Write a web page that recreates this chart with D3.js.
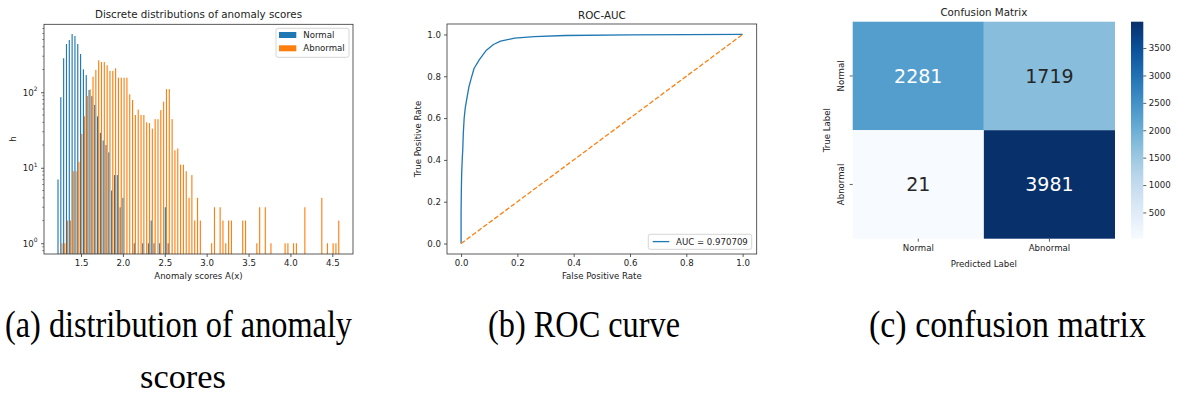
<!DOCTYPE html>
<html>
<head>
<meta charset="utf-8">
<script src="https://cdn.jsdelivr.net/npm/d3@7"></script>
<style>
  html, body { margin: 0; padding: 0; background: #fff; }
  svg { display: block; }
  text { font-family: "DejaVu Sans", sans-serif; fill: #222; }
</style>
</head>
<body>
<script>
// ---------------- DATA ----------------
// (a) histogram: 100 bins from binMin to binMax, two series side by side
const histBinMin = 1.215;
const histBinMax = 4.587;
const normalCounts = [
  7, 86, 282, 436, 492, 590, 556, 436, 321, 201,
  169, 107, 89, 68, 48, 29, 23, 20, 16, 5,
  8, 8, 3, 4, 0, 0, 0, 1, 0, 0,
  1, 0, 1, 2, 1, 0, 1, 0, 3, 1,
  0, 0, 0, 0, 0, 0, 0, 0, 0, 0,
  0, 0, 0, 0, 0, 0, 0, 0, 0, 0,
  0, 0, 0, 0, 0, 0, 0, 0, 0, 0,
  0, 0, 0, 0, 0, 0, 0, 0, 0, 0,
  0, 0, 0, 0, 0, 0, 0, 0, 0, 0,
  0, 0, 0, 0, 0, 0, 0, 0, 0, 0
];
const abnormalCounts = [
  0, 1, 1, 2, 2, 9, 9, 12, 28, 48,
  89, 109, 161, 198, 265, 251, 251, 228, 192, 192,
  208, 156, 156, 156, 156, 94, 79, 50, 59, 50,
  50, 40, 39, 33, 44, 44, 58, 75, 110, 110,
  44, 17, 18, 11, 11, 9, 4, 8, 2, 4,
  2, 0, 0, 0, 1, 3, 0, 3, 2, 1,
  2, 2, 0, 0, 0, 2, 2, 0, 0, 0,
  1, 3, 0, 3, 0, 1, 0, 0, 0, 0,
  1, 1, 0, 1, 1, 0, 0, 3, 0, 0,
  0, 0, 0, 4, 0, 1, 0, 1, 1, 2
];
const histSeries = ["Normal", "Abnormal"];
const histXTicks = [1.5, 2.0, 2.5, 3.0, 3.5, 4.0, 4.5];
const histYExponents = [0, 1, 2];
const histYMinor = [0.8, 0.9, 2, 3, 4, 5, 6, 7, 8, 9, 20, 30, 40, 50, 60, 70, 80, 90, 200, 300, 400, 500, 600, 700];

// (b) ROC curve
const rocFpr = [0, 0, 0.001, 0.002, 0.004, 0.006, 0.008, 0.011, 0.015, 0.02, 0.028, 0.036, 0.046, 0.065, 0.09, 0.115, 0.14, 0.19, 0.26, 0.37, 0.6, 0.8, 1];
const rocTpr = [0, 0.15, 0.26, 0.33, 0.40, 0.45, 0.53, 0.60, 0.65, 0.69, 0.75, 0.79, 0.837, 0.88, 0.925, 0.952, 0.968, 0.982, 0.99, 0.995, 0.998, 0.999, 1];
const chanceLine = [0, 1];
const rocTicks = [0, 0.2, 0.4, 0.6, 0.8, 1.0];
const aucLabel = "AUC = 0.970709";

// (c) confusion matrix
const cmLabels = ["Normal", "Abnormal"];
const cmValues = [[2281, 1719], [21, 3981]];
const cbTicks = [500, 1000, 1500, 2000, 2500, 3000, 3500];

// captions
const captions = [
  { text: "(a) distribution of anomaly", x0: 5, x1: 352, line: 1 },
  { text: "scores", x0: 140, x1: 226, line: 2 },
  { text: "(b) ROC curve", x0: 488, x1: 680, line: 1 },
  { text: "(c) confusion matrix", x0: 869, x1: 1146, line: 1 }
];

// ---------------- SETUP ----------------
const W = 1178, H = 398;
const svg = d3.select("body").append("svg").attr("width", W).attr("height", H);
svg.append("rect").attr("width", W).attr("height", H).attr("fill", "#fff");

const TICK_FS = 8.6, TITLE_FS = 10.3;
const BLUE = "#1f77b4", ORANGE = "#ff7f0e";
const SPINE = "#333";

function styleAxis(g) {
  g.select(".domain").remove();
  g.selectAll(".tick line").attr("stroke", SPINE).attr("stroke-width", 0.8);
  g.selectAll(".tick text").attr("font-size", TICK_FS).attr("fill", "#222").attr("font-family", "DejaVu Sans");
}
function frame(x0, y0, x1, y1) {
  svg.append("rect").attr("x", x0).attr("y", y0).attr("width", x1 - x0).attr("height", y1 - y0)
    .attr("fill", "none").attr("stroke", SPINE).attr("stroke-width", 0.8);
}

// ---------------- (a) HISTOGRAM ----------------
(function () {
  const L = 44, R = 353, T = 24.3, B = 254;
  const x = d3.scaleLinear().domain([1.058, 4.747]).range([L, R]);
  const y = d3.scaleLog().domain([Math.pow(10, -0.142), Math.pow(10, 2.9)]).range([B, T]);
  const n = normalCounts.length;
  const bw = (histBinMax - histBinMin) / n;
  const bins = d3.range(n).map(i => ({ i, left: histBinMin + i * bw, normal: normalCounts[i], abnormal: abnormalCounts[i] }));

  const g = svg.append("g");
  const series = [
    { key: "normal", color: BLUE, off0: 0.1, off1: 0.5 },
    { key: "abnormal", color: ORANGE, off0: 0.5, off1: 0.9 }
  ];
  series.forEach(s => {
    g.selectAll(null).data(bins.filter(d => d[s.key] > 0)).join("rect")
      .attr("x", d => x(d.left + s.off0 * bw))
      .attr("width", d => x(d.left + s.off1 * bw) - x(d.left + s.off0 * bw))
      .attr("y", d => y(d[s.key]))
      .attr("height", d => B - y(d[s.key]))
      .attr("fill", s.color);
  });

  const gx = svg.append("g").attr("transform", `translate(0,${B})`)
    .call(d3.axisBottom(x).tickValues(histXTicks).tickFormat(d3.format(".1f")).tickSize(3).tickPadding(3));
  styleAxis(gx);

  const gy = svg.append("g").attr("transform", `translate(${L},0)`)
    .call(d3.axisLeft(y).tickValues(histYExponents.map(e => Math.pow(10, e))).tickFormat("").tickSize(3));
  styleAxis(gy);
  gy.selectAll(".tick").each(function (d) {
    const t = d3.select(this).append("text").attr("x", -6.5).attr("dy", "0.32em")
      .attr("text-anchor", "end").attr("font-size", TICK_FS).attr("fill", "#222");
    t.append("tspan").text("10");
    t.append("tspan").attr("font-size", 6).attr("dy", "-0.75em").text(String(Math.round(Math.log10(d))));
  });
  svg.append("g").selectAll("line").data(histYMinor).join("line")
    .attr("x1", L - 1.7).attr("x2", L).attr("y1", d => y(d)).attr("y2", d => y(d))
    .attr("stroke", SPINE).attr("stroke-width", 0.6);

  frame(L, T, R, B);

  svg.append("text").attr("x", (L + R) / 2).attr("y", 18).attr("text-anchor", "middle")
    .attr("font-size", TITLE_FS).text("Discrete distributions of anomaly scores");
  svg.append("text").attr("x", (L + R) / 2).attr("y", 279).attr("text-anchor", "middle")
    .attr("font-size", TICK_FS).text("Anomaly scores A(x)");
  svg.append("text").attr("transform", `translate(16.3,${(T + B) / 2}) rotate(-90)`).attr("text-anchor", "middle")
    .attr("font-size", TICK_FS).text("h");

  const lg = svg.append("g");
  lg.append("rect").attr("x", 276).attr("y", 28.3).attr("width", 73).attr("height", 29).attr("rx", 2)
    .attr("fill", "#fff").attr("fill-opacity", 0.8).attr("stroke", "#ccc").attr("stroke-width", 0.8);
  histSeries.forEach((name, k) => {
    lg.append("rect").attr("x", 279).attr("y", 32 + k * 13.3).attr("width", 17.3).attr("height", 6)
      .attr("fill", k === 0 ? BLUE : ORANGE);
    lg.append("text").attr("x", 303.3).attr("y", 38 + k * 13.3).attr("font-size", TICK_FS).text(name);
  });
})();

// ---------------- (b) ROC ----------------
(function () {
  const L = 447, R = 756.7, T = 24, B = 254;
  const x = d3.scaleLinear().domain([-0.05, 1.05]).range([L, R]);
  const y = d3.scaleLinear().domain([-0.05, 1.05]).range([B, T]);

  const line = d3.line().x(d => x(d[0])).y(d => y(d[1]));
  svg.append("path").datum(rocFpr.map((f, i) => [f, rocTpr[i]])).attr("d", line)
    .attr("fill", "none").attr("stroke", BLUE).attr("stroke-width", 1.3).attr("stroke-linejoin", "round");
  svg.append("path").datum(chanceLine.map(v => [v, v])).attr("d", line)
    .attr("fill", "none").attr("stroke", ORANGE).attr("stroke-width", 1.3).attr("stroke-dasharray", "4.8,2.1");

  const gx = svg.append("g").attr("transform", `translate(0,${B})`)
    .call(d3.axisBottom(x).tickValues(rocTicks).tickFormat(d3.format(".1f")).tickSize(3).tickPadding(3));
  styleAxis(gx);
  const gy = svg.append("g").attr("transform", `translate(${L},0)`)
    .call(d3.axisLeft(y).tickValues(rocTicks).tickFormat(d3.format(".1f")).tickSize(3).tickPadding(3));
  styleAxis(gy);
  frame(L, T, R, B);

  svg.append("text").attr("x", (L + R) / 2).attr("y", 18.7).attr("text-anchor", "middle")
    .attr("font-size", TITLE_FS).text("ROC-AUC");
  svg.append("text").attr("x", (L + R) / 2).attr("y", 279).attr("text-anchor", "middle")
    .attr("font-size", TICK_FS).text("False Positive Rate");
  svg.append("text").attr("transform", `translate(421.3,${(T + B) / 2}) rotate(-90)`).attr("text-anchor", "middle")
    .attr("font-size", TICK_FS).text("True Positive Rate");

  svg.append("rect").attr("x", 648.3).attr("y", 234.3).attr("width", 103.4).attr("height", 15).attr("rx", 2)
    .attr("fill", "#fff").attr("fill-opacity", 0.8).attr("stroke", "#ccc").attr("stroke-width", 0.8);
  svg.append("line").attr("x1", 652.7).attr("x2", 669.3).attr("y1", 241.6).attr("y2", 241.6)
    .attr("stroke", BLUE).attr("stroke-width", 1.3);
  svg.append("text").attr("x", 676).attr("y", 244.8).attr("font-size", TICK_FS).text(aucLabel);
})();

// ---------------- (c) CONFUSION MATRIX ----------------
(function () {
  const L = 852.7, R = 1115, T = 21.7, B = 238.7;
  const x = d3.scaleBand().domain(cmLabels).range([L, R]);
  const y = d3.scaleBand().domain(cmLabels).range([T, B]);
  const flat = d3.merge(cmValues);
  const ext = d3.extent(flat);
  const color = d3.scaleSequential(d3.interpolateBlues).domain(ext);
  const cells = [];
  cmLabels.forEach((r, i) => cmLabels.forEach((c, j) => cells.push({ r, c, v: cmValues[i][j] })));

  function relLum(col) {
    const c = d3.rgb(col);
    const f = v => { v /= 255; return v <= 0.03928 ? v / 12.92 : Math.pow((v + 0.055) / 1.055, 2.4); };
    return 0.2126 * f(c.r) + 0.7152 * f(c.g) + 0.0722 * f(c.b);
  }

  svg.append("g").selectAll("rect").data(cells).join("rect")
    .attr("x", d => x(d.c)).attr("y", d => y(d.r))
    .attr("width", x.bandwidth()).attr("height", y.bandwidth())
    .attr("fill", d => color(d.v));
  svg.append("g").selectAll("text").data(cells).join("text")
    .attr("x", d => x(d.c) + x.bandwidth() / 2).attr("y", d => y(d.r) + y.bandwidth() / 2)
    .attr("dy", "0.36em").attr("text-anchor", "middle").attr("font-size", 19)
    .style("fill", d => relLum(color(d.v)) > 0.408 ? "#262626" : "#ffffff")
    .text(d => d.v);

  const gx = svg.append("g").attr("transform", `translate(0,${B})`)
    .call(d3.axisBottom(x).tickSize(3).tickPadding(3));
  styleAxis(gx);
  const gy = svg.append("g").attr("transform", `translate(${L},0)`)
    .call(d3.axisLeft(y).tickSize(3).tickFormat(""));
  styleAxis(gy);
  cmLabels.forEach(lab => {
    svg.append("text").attr("transform", `translate(843.8,${y(lab) + y.bandwidth() / 2}) rotate(-90)`)
      .attr("text-anchor", "middle").attr("font-size", TICK_FS).text(lab);
  });

  svg.append("text").attr("x", (L + R) / 2).attr("y", 16.2).attr("text-anchor", "middle")
    .attr("font-size", TITLE_FS).text("Confusion Matrix");
  svg.append("text").attr("x", (L + R) / 2).attr("y", 267.2).attr("text-anchor", "middle")
    .attr("font-size", TICK_FS).text("Predicted Label");
  svg.append("text").attr("transform", `translate(829.8,${(T + B) / 2}) rotate(-90)`).attr("text-anchor", "middle")
    .attr("font-size", TICK_FS).text("True Label");

  const cbL = 1131, cbR = 1143.3;
  const grad = svg.append("defs").append("linearGradient").attr("id", "cbgrad")
    .attr("x1", 0).attr("y1", 1).attr("x2", 0).attr("y2", 0);
  d3.range(0, 1.0001, 0.05).forEach(t => {
    grad.append("stop").attr("offset", t).attr("stop-color", d3.interpolateBlues(t));
  });
  svg.append("rect").attr("x", cbL).attr("y", T).attr("width", cbR - cbL).attr("height", B - T)
    .attr("fill", "url(#cbgrad)");
  const cy = d3.scaleLinear().domain(ext).range([B, T]);
  const gc = svg.append("g").attr("transform", `translate(${cbR},0)`)
    .call(d3.axisRight(cy).tickValues(cbTicks).tickFormat(d3.format("d")).tickSize(3).tickPadding(2.5));
  styleAxis(gc);
})();

// ---------------- CAPTIONS ----------------
svg.append("g").selectAll("text").data(captions).join("text")
  .attr("x", d => d.x0)
  .attr("y", d => d.line === 2 ? 388 : 337)
  .style("font-family", "'Liberation Serif', 'Times New Roman', serif")
  .attr("font-size", d => d.line === 2 ? 34 : 37)
  .style("fill", "#000")
  .attr("textLength", d => d.x1 - d.x0)
  .attr("lengthAdjust", "spacingAndGlyphs")
  .text(d => d.text);
</script>
</body>
</html>
